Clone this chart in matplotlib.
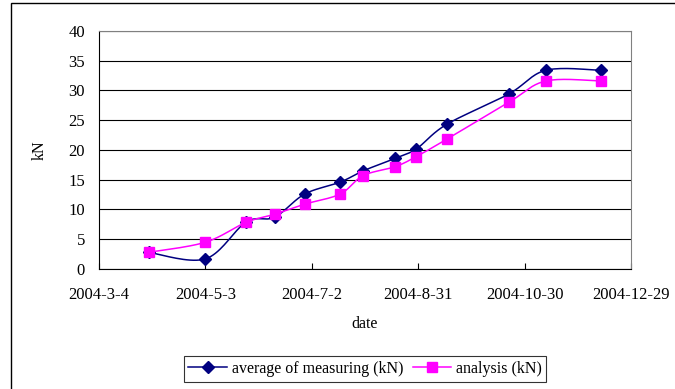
import numpy as np
import pandas as pd
import matplotlib
matplotlib.use("Agg")
import matplotlib.pyplot as plt
import matplotlib.dates as mdates
from matplotlib.patches import Rectangle

# data
dates = ["2004-04-01", "2004-05-03", "2004-05-26", "2004-06-11", "2004-06-28",
         "2004-07-18", "2004-07-31", "2004-08-18", "2004-08-30", "2004-09-16",
         "2004-10-21", "2004-11-11", "2004-12-12"]
measured = [2.8, 1.7, 7.9, 8.7, 12.6, 14.6, 16.5, 18.6, 20.2, 24.3, 29.4, 33.4, 33.4]
analysis = [2.8, 4.5, 7.85, 9.2, 10.9, 12.6, 15.7, 17.2, 18.9, 21.8, 28.0, 31.6, 31.6]
tick_dates = ["2004-03-04", "2004-05-03", "2004-07-02", "2004-08-31",
              "2004-10-30", "2004-12-29"]
tick_labels = ["2004-3-4", "2004-5-3", "2004-7-2", "2004-8-31",
               "2004-10-30", "2004-12-29"]

plt.rcParams['font.family'] = ['Liberation Serif', 'DejaVu Serif']


def smooth(x, y, n=20):
    # Catmull-Rom style smoothing, similar to Excel's smoothed lines
    x = np.asarray(x, float)
    y = np.asarray(y, float)
    xs, ys = [], []
    for i in range(len(x) - 1):
        x0, y0 = (x[i - 1], y[i - 1]) if i > 0 else (x[i], y[i])
        x3, y3 = (x[i + 2], y[i + 2]) if i + 2 < len(x) else (x[i + 1], y[i + 1])
        p0 = np.array([x0, y0]); p1 = np.array([x[i], y[i]])
        p2 = np.array([x[i + 1], y[i + 1]]); p3 = np.array([x3, y3])
        c1 = p1 + (p2 - p0) / 6.0
        c2 = p2 - (p3 - p1) / 6.0
        t = np.linspace(0, 1, n)[:, None]
        pts = ((1 - t) ** 3) * p1 + 3 * ((1 - t) ** 2) * t * c1 + 3 * (1 - t) * t ** 2 * c2 + t ** 3 * p2
        xs.extend(pts[:, 0]); ys.extend(pts[:, 1])
    return np.array(xs), np.array(ys)


x = mdates.date2num(pd.to_datetime(dates))
ticks = mdates.date2num(pd.to_datetime(tick_dates))

fig = plt.figure(figsize=(6.75, 3.89), dpi=100)
ax = fig.add_axes([99 / 675, 1 - 269 / 389, 532 / 675, 238 / 389])

blue = '#000080'
pink = '#ff00ff'
sx, sy = smooth(x, measured)
ax.plot(sx, sy, color=blue, lw=1.1)
ax.plot(x, measured, linestyle='none', marker='D', color=blue, ms=6.5)
sx, sy = smooth(x, analysis)
ax.plot(sx, sy, color=pink, lw=1.1)
ax.plot(x, analysis, linestyle='none', marker='s', color=pink, ms=6.5)

ax.set_xlim(ticks[0], ticks[-1])
ax.set_ylim(0, 40)
ax.set_xticks(ticks)
ax.set_xticklabels(tick_labels, fontsize=12)
ax.set_yticks(range(0, 41, 5))
ax.tick_params(axis='y', length=0, labelsize=12, pad=10)
ax.tick_params(axis='x', direction='in', length=4, width=0.8, pad=13)
ax.yaxis.grid(True, color='black', lw=0.8)
ax.set_axisbelow(True)
for s in ['top', 'right']:
    ax.spines[s].set_color('#808080')
ax.set_xlabel('date', fontsize=11.5, labelpad=9)
ax.set_ylabel('kN', fontsize=11.5, labelpad=15)

h1, = ax.plot([], [], color=blue, marker='D', ms=6.5, lw=1.1)
h2, = ax.plot([], [], color=pink, marker='s', ms=6.5, lw=1.1)
leg = fig.legend([h1, h2], ['average of measuring (kN)', 'analysis (kN)'],
                 loc='center', bbox_to_anchor=(365 / 675, 1 - 369 / 389), ncol=2,
                 fontsize=11.5, frameon=True, fancybox=False, edgecolor='black',
                 handlelength=2.4, columnspacing=0.6, handletextpad=0.3,
                 borderpad=0.3)
leg.get_frame().set_linewidth(0.8)

fig.patches.append(Rectangle((11 / 675, -0.05), 1.0, 1 - 3 / 389 + 0.05,
                             transform=fig.transFigure, fill=False,
                             edgecolor='black', lw=1.0))

fig.savefig('out.png', dpi=100)
